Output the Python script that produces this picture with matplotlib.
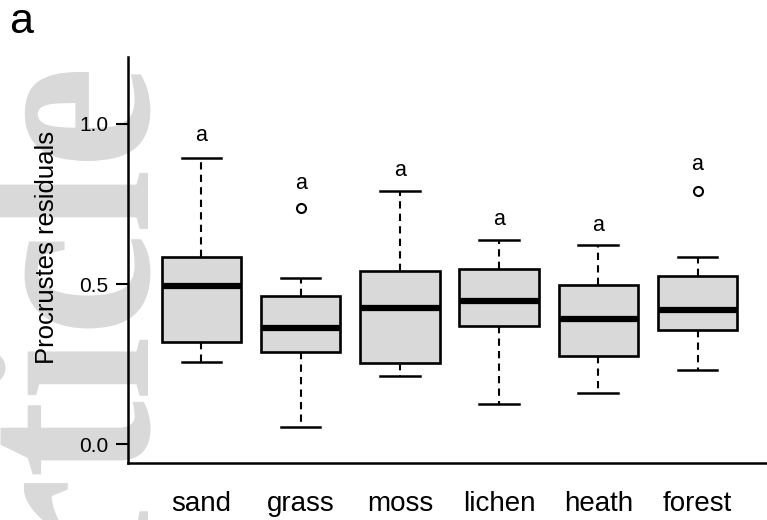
import matplotlib
matplotlib.use("Agg")
import matplotlib.pyplot as plt
from matplotlib.textpath import TextPath
from matplotlib.patches import PathPatch
from matplotlib.font_manager import FontProperties
from matplotlib.transforms import Affine2D, IdentityTransform

categories = ["sand", "grass", "moss", "lichen", "heath", "forest"]
whisker_low = [0.256, 0.053, 0.212, 0.125, 0.159, 0.231]
q1 = [0.319, 0.288, 0.253, 0.369, 0.275, 0.356]
median = [0.494, 0.363, 0.425, 0.447, 0.390, 0.419]
q3 = [0.584, 0.463, 0.540, 0.547, 0.497, 0.525]
whisker_high = [0.894, 0.519, 0.790, 0.638, 0.622, 0.584]
outliers = [[], [0.738], [], [], [], [0.790]]
letters = ["a", "a", "a", "a", "a", "a"]
letter_y = [0.965, 0.815, 0.853, 0.702, 0.683, 0.872]
yticks = [0.0, 0.5, 1.0]

fig = plt.figure(figsize=(7.67, 5.2), dpi=100)
plt.rcParams['font.family'] = ['Liberation Sans', 'DejaVu Sans']

# watermark (rotated, slightly stretched serif text)
tp = TextPath((0, 0), "Article", size=1,
              prop=FontProperties(family='Liberation Serif', weight='bold'))
xmax = tp.get_extents().xmax
along, across = 232, 262
wm_tr = (Affine2D().scale(along, across).translate(-xmax * along, 0)
         .rotate_deg(90).translate(148, 520 - 72))
fig.add_artist(PathPatch(tp, transform=wm_tr + IdentityTransform(),
                         facecolor='#d9d9d9', edgecolor='none', zorder=-10))

ax = fig.add_axes([128 / 767, (520 - 463) / 520, 1 - 128 / 767, (463 - 57) / 520])
ax.patch.set_alpha(0)

stats = []
for i, c in enumerate(categories):
    stats.append(dict(label=c, whislo=whisker_low[i], q1=q1[i], med=median[i],
                      q3=q3[i], whishi=whisker_high[i], fliers=outliers[i]))

positions = list(range(1, len(categories) + 1))
ax.bxp(stats, positions=positions, widths=0.8, patch_artist=True,
       boxprops=dict(facecolor='#d9d9d9', edgecolor='black', linewidth=1.9),
       medianprops=dict(color='black', linewidth=4.5, solid_capstyle='butt'),
       whiskerprops=dict(color='black', linewidth=1.5, linestyle=(0, (3.5, 2.5))),
       capprops=dict(color='black', linewidth=1.8),
       capwidths=0.4,
       flierprops=dict(marker='o', markersize=6.5, markerfacecolor='none',
                       markeredgecolor='black', markeredgewidth=1.5))

for p, t, y in zip(positions, letters, letter_y):
    ax.text(p, y, t, ha='center', va='center', fontsize=15.5)

ax.set_xlim(0.26, 6.70)
ax.set_ylim(-0.059, 1.209)
ax.set_yticks(yticks)
ax.set_yticklabels([f"{v:.1f}" for v in yticks])
ax.set_xticks(positions)
ax.set_xticklabels(categories)
ax.tick_params(axis='y', length=9, width=1.5, pad=5, labelsize=15)
ax.tick_params(axis='x', length=0, pad=20, labelsize=20)
for s in ['top', 'right']:
    ax.spines[s].set_visible(False)
for s in ['left', 'bottom']:
    ax.spines[s].set_linewidth(1.8)
ax.set_ylabel("Procrustes residuals", fontsize=18.5)
ax.yaxis.set_label_coords(-0.108, 0.53)

fig.text(9 / 767, 1 - 22 / 520, "a", fontsize=31, va='center', ha='left')

fig.savefig("out.png", dpi=100)
